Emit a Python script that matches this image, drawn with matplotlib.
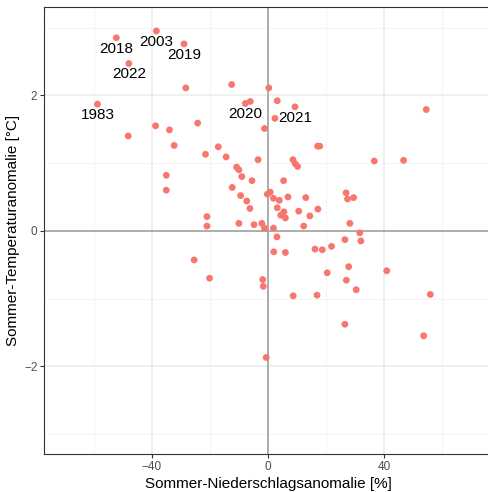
import matplotlib
matplotlib.use("Agg")
import matplotlib.pyplot as plt

plt.rcParams['font.family'] = ['Liberation Sans', 'DejaVu Sans']

# Sommer-Niederschlagsanomalie [%] und Sommer-Temperaturanomalie [°C]
precip = [-52.2, -38.4, -28.9, -47.9, -28.3, -58.7, -38.7, -33.9, -48.1, -32.3,
          -35.0, -35.0, -12.5, 0.3, -6.1, -7.8, 3.2, 9.3, 2.4, -24.2,
          -1.2, -17.1, -21.5, -14.4, -3.4, -10.8, -10.0, -9.0, -5.5, 5.4,
          -12.3, 8.6, 9.4, 10.2, 17.1, 17.8, 36.6, 46.7, 54.5, -9.4,
          -7.3, -6.2, -4.8, -2.1, -1.2, -0.2, 0.8, 1.9, 3.9, 6.9,
          13.0, 3.2, 5.5, 4.4, 6.0, 10.6, 14.4, 17.2, 12.3, 1.9,
          3.1, 26.9, 27.4, 29.5, 28.2, 31.6, 32.0, 26.5, 16.2, 18.7,
          21.9, 2.0, 6.0, -21.0, -21.0, -10.0, -25.4, -20.1, -1.8, -1.6,
          8.7, 16.9, 20.4, 27.8, 27.0, 30.4, 40.9, 55.9, 26.5, 53.6,
          -0.6]
temp = [2.85, 2.95, 2.76, 2.47, 2.11, 1.87, 1.55, 1.49, 1.40, 1.26,
        0.82, 0.60, 2.16, 2.11, 1.91, 1.88, 1.92, 1.83, 1.66, 1.59,
        1.51, 1.24, 1.13, 1.09, 1.05, 0.94, 0.90, 0.80, 0.74, 0.74,
        0.64, 1.05, 0.99, 0.95, 1.25, 1.25, 1.03, 1.04, 1.79, 0.52,
        0.44, 0.33, 0.09, 0.11, 0.04, 0.54, 0.57, 0.48, 0.45, 0.50,
        0.49, 0.34, 0.28, 0.23, 0.19, 0.29, 0.22, 0.32, 0.07, 0.04,
        -0.09, 0.56, 0.47, 0.49, 0.11, -0.03, -0.15, -0.13, -0.27, -0.28,
        -0.23, -0.31, -0.32, 0.21, 0.07, 0.11, -0.43, -0.70, -0.72, -0.82,
        -0.96, -0.95, -0.62, -0.53, -0.73, -0.87, -0.59, -0.94, -1.38, -1.55,
        -1.87]

# beschriftete Jahre
label_years = ['2018', '2003', '2019', '2022', '1983', '2020', '2021']
label_x = [-52.2, -38.4, -28.9, -47.9, -58.7, -7.8, 9.3]
label_y = [2.85, 2.95, 2.76, 2.47, 1.87, 1.88, 1.83]

fig = plt.figure(figsize=(4.89, 4.92), dpi=100)
ax = fig.add_axes([0.0906, 0.0766, 0.9147, 0.9086])

ax.set_xlim(-77, 77)
ax.set_ylim(-3.3, 3.3)

# Gitter im Stil von theme_bw
for v in [-60, -20, 20, 60]:
    ax.axvline(v, color='#F2F2F2', lw=0.6, zorder=0)
for v in [-3, -1, 1, 3]:
    ax.axhline(v, color='#F2F2F2', lw=0.6, zorder=0)
for v in [-40, 0, 40]:
    ax.axvline(v, color='#EBEBEB', lw=1.1, zorder=0)
for v in [-2, 0, 2]:
    ax.axhline(v, color='#EBEBEB', lw=1.1, zorder=0)

ax.axhline(0, color='#A8A8A8', lw=1.3, zorder=1)
ax.axvline(0, color='#A8A8A8', lw=1.3, zorder=1)

ax.scatter(precip, temp, s=24, color='#F8766D', edgecolors='none', zorder=3)

for lab, x, y in zip(label_years, label_x, label_y):
    ax.text(x, y - 0.16, lab, ha='center', va='center', fontsize=11, color='black', zorder=4)

ax.set_xticks([-40, 0, 40])
ax.set_yticks([-2, 0, 2])
ax.tick_params(axis='both', colors='#333333', length=3, width=0.8, labelsize=8.5,
               labelcolor='#4D4D4D', pad=2)

for s in ax.spines.values():
    s.set_color('#333333')
    s.set_linewidth(0.8)

ax.set_xlabel('Sommer-Niederschlagsanomalie [%]', fontsize=11, labelpad=3)
ax.set_ylabel('Sommer-Temperaturanomalie [°C]', fontsize=11, labelpad=3)

fig.savefig('out.png', dpi=100)
